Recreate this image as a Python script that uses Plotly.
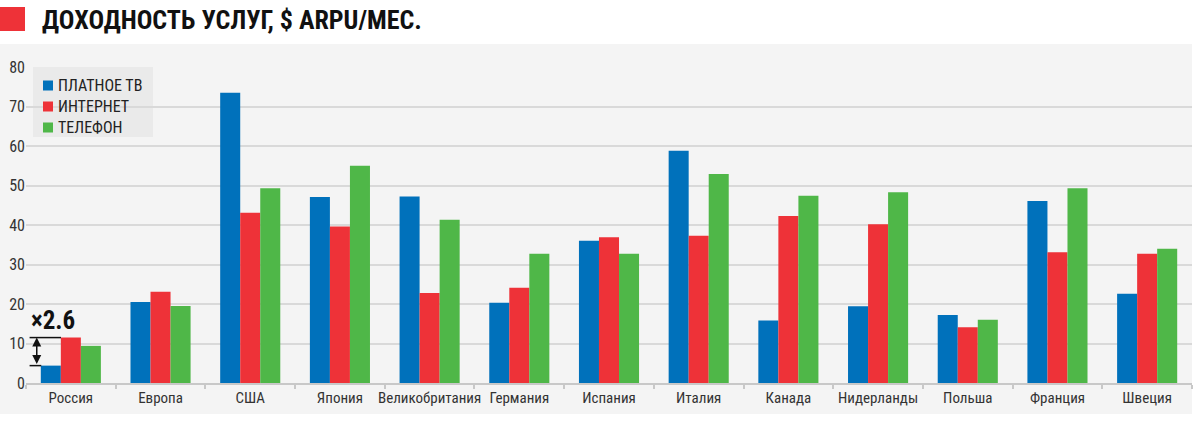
import plotly.graph_objects as go

countries = ["Россия", "Европа", "США", "Япония", "Великобритания", "Германия", "Испания",
             "Италия", "Канада", "Нидерланды", "Польша", "Франция", "Швеция"]
pay_tv = [4.4, 20.5, 73.5, 47.1, 47.2, 20.3, 36.0, 58.8, 15.8, 19.4, 17.2, 46.1, 22.6]
internet = [11.5, 23.1, 43.1, 39.6, 22.8, 24.1, 36.9, 37.3, 42.3, 40.2, 14.1, 33.1, 32.7]
phone = [9.4, 19.5, 49.3, 55.0, 41.3, 32.7, 32.7, 52.9, 47.4, 48.3, 16.0, 49.3, 34.0]
series_names = ["ПЛАТНОЕ ТВ", "ИНТЕРНЕТ", "ТЕЛЕФОН"]
colors = ["#0071bb", "#ee3238", "#4fb748"]
title_text = "ДОХОДНОСТЬ УСЛУГ, $ ARPU/МЕС."
ratio_label = "×2.6"

FONT = "Roboto Condensed, Liberation Sans Narrow, DejaVu Sans Condensed, Roboto, sans-serif"

# pixel -> paper helpers (plot area: x 26..1192, y 67..383)
def px(x):
    return (x - 26) / 1166

def py(y):
    return (383 - y) / 316

fig = go.Figure()
for name, vals, col in zip(series_names, [pay_tv, internet, phone], colors):
    fig.add_trace(go.Bar(x=countries, y=vals, name=name, marker=dict(color=col, line=dict(width=0))))

fig.update_layout(
    width=1200, height=423,
    margin=dict(l=26, r=8, t=67, b=40, autoexpand=False),
    paper_bgcolor="white", plot_bgcolor="rgba(0,0,0,0)",
    barmode="group", bargap=0.33, bargroupgap=0,
    font=dict(family=FONT, color="#333333", size=13),
    showlegend=False,
    xaxis=dict(showline=True, linecolor="#c8c8c8", linewidth=2, ticks="outside",
               tickson="boundaries", ticklen=4, tickcolor="#c8c8c8", tickwidth=2,
               showgrid=False, tickangle=0, automargin=False,
               tickfont=dict(size=15, color="#333")),
    yaxis=dict(range=[0, 80], dtick=10, showgrid=True, gridcolor="#d9d9d9", gridwidth=2,
               zeroline=False, showline=False, ticks="", automargin=False,
               tickfont=dict(size=16, color="#333")),
)

# gray panel
fig.add_shape(type="rect", xref="paper", yref="paper", x0=px(0), x1=px(1192), y0=py(414), y1=py(44),
              fillcolor="#f4f4f4", line=dict(width=0), layer="below")
# red square + title
fig.add_shape(type="rect", xref="paper", yref="paper", x0=px(0), x1=px(25),
              y0=py(31), y1=py(7), fillcolor="#ee3238", line=dict(width=0))
fig.add_annotation(xref="paper", yref="paper", x=px(40), y=py(20), xanchor="left",
                   yanchor="middle", text="<b>" + title_text + "</b>", showarrow=False,
                   font=dict(size=26, color="#111", family=FONT))

# legend (drawn manually to match the compact box)
fig.add_shape(type="rect", xref="paper", yref="paper", x0=px(33), x1=px(153), y0=py(137), y1=py(67),
              fillcolor="#eaeaea", line=dict(width=0), layer="below")
for i, (name, col) in enumerate(zip(series_names, colors)):
    cy = 85.5 + i * 21
    fig.add_shape(type="rect", xref="paper", yref="paper", x0=px(43), x1=px(53),
                  y0=py(cy + 5), y1=py(cy - 5), fillcolor=col, line=dict(width=0))
    fig.add_annotation(xref="paper", yref="paper", x=px(56), y=py(cy), xanchor="left",
                       yanchor="middle", text=name, showarrow=False,
                       font=dict(size=16, color="#222", family=FONT))

# ratio marker for Russia
r_tv, r_net = pay_tv[0], internet[0]
fig.add_shape(type="line", xref="x", yref="y", x0=-0.46, x1=-0.11, y0=r_net, y1=r_net,
              line=dict(color="#111", width=1.5))
fig.add_shape(type="line", xref="x", yref="y", x0=-0.46, x1=-0.33, y0=r_tv, y1=r_tv,
              line=dict(color="#111", width=1.5))
fig.add_annotation(xref="x", yref="y", axref="x", ayref="y", x=-0.38, y=r_net,
                   ax=-0.38, ay=r_tv, showarrow=True, arrowhead=2, arrowside="end+start",
                   arrowsize=1.2, arrowwidth=1.5, arrowcolor="#111", text="")
fig.add_annotation(xref="x", yref="y", x=-0.47, y=r_net + 0.2, xanchor="left", yanchor="bottom",
                   text="<b>" + ratio_label + "</b>", showarrow=False,
                   font=dict(size=25, color="#111", family=FONT))

fig.write_html("out.html", config={"displayModeBar": False},
               post_script="document.body.style.margin='0';")
